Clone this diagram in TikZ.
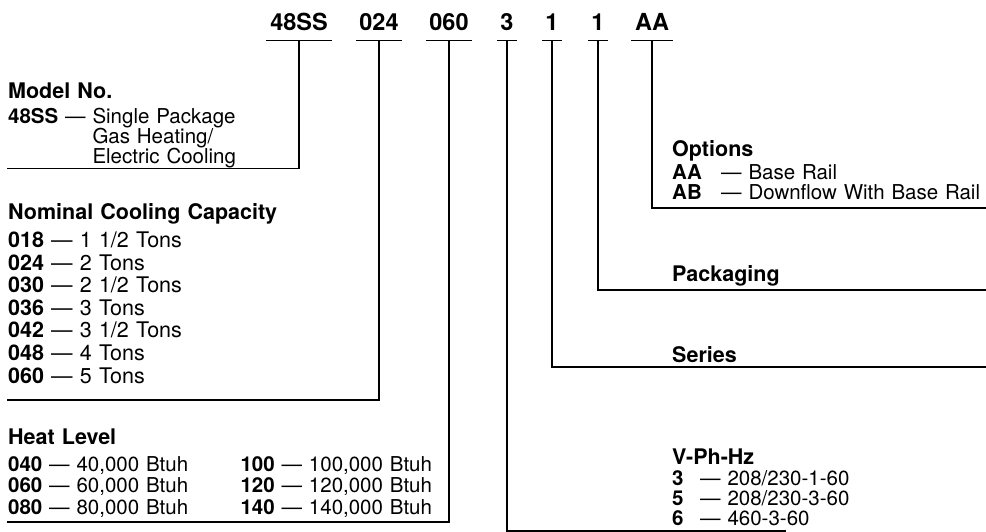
\documentclass[tikz,border=0pt]{standalone}
\usepackage{fontspec}
\setmainfont{TeX Gyre Heros}
\usetikzlibrary{positioning}

\begin{document}
\begin{tikzpicture}[x=1pt,y=-1pt,
code/.style={font=\fontsize{23.5}{24}\selectfont\bfseries, anchor=base, inner xsep=3pt, inner ysep=9pt},
entry/.style={font=\fontsize{21.5}{24}\selectfont, inner sep=0pt, text height=15.5pt, text depth=5pt, text width=300pt, align=left},
heading/.style={entry, font=\fontsize{21.5}{24}\selectfont\bfseries, anchor=base west},
modelrow/.style={entry, font=\fontsize{20.5}{24}\selectfont, text height=15pt, text depth=4.5pt},
heatrow/.style={entry, text width=229pt, font=\fontsize{20.5}{24}\selectfont},
wide/.style={text width=330pt},
rightrow/.style={entry, wide, font=\fontsize{20.5}{24}\selectfont},
rule/.style={line width=1.2pt, line cap=rect}
]
\useasboundingbox (0,0) rectangle (986,532);

% model number codes
\node[code](c48) at (299,31){48SS};
\node[code](c024) at (379,31){024};
\node[code](c060) at (449,31){060};
\node[code](c3) at (507,31){3};
\node[code](c1a) at (552,31){1};
\node[code](c1b) at (598,31){1};
\node[code](cAA) at (652,31){AA};

% left column
\node[heading](modelhd) at (8,99){Model No.};
\node[modelrow](m48)[below=4pt of modelhd]{\textbf{48SS} --- Single Package};
\node[modelrow](mgas)[below=0pt of m48]{\phantom{\textbf{48SS} --- }Gas Heating/};
\node[modelrow](melec)[below=0pt of mgas]{\phantom{\textbf{48SS} --- }Electric Cooling};

\node[heading](caphd) at (8,219){Nominal Cooling Capacity};
\node[entry](cap018)[below=7.5pt of caphd]{\textbf{018} --- 1 1/2 Tons};
\node[entry](cap024)[below=1.7pt of cap018]{\textbf{024} --- 2 Tons};
\node[entry](cap030)[below=1.7pt of cap024]{\textbf{030} --- 2 1/2 Tons};
\node[entry](cap036)[below=1.7pt of cap030]{\textbf{036} --- 3 Tons};
\node[entry](cap042)[below=1.7pt of cap036]{\textbf{042} --- 3 1/2 Tons};
\node[entry](cap048)[below=1.7pt of cap042]{\textbf{048} --- 4 Tons};
\node[entry](cap060)[below=1.7pt of cap048]{\textbf{060} --- 5 Tons};

\node[heading, text width=229pt](heathd) at (8,444){Heat Level};
\node[heatrow](heat040)[below=6.5pt of heathd]{\textbf{040} --- 40,000 Btuh};
\node[heatrow](heat060)[below=0.5pt of heat040]{\textbf{060} --- 60,000 Btuh};
\node[heatrow](heat080)[below=0.5pt of heat060]{\textbf{080} --- 80,000 Btuh};
\node[heatrow](heat100)[right=3pt of heat040]{\textbf{100} --- 100,000 Btuh};
\node[heatrow](heat120)[right=3pt of heat060]{\textbf{120} --- 120,000 Btuh};
\node[heatrow](heat140)[right=3pt of heat080]{\textbf{140} --- 140,000 Btuh};

% right column
\node[heading, wide](opthd) at (672,157){Options};
\node[rightrow](optAA)[below=1.5pt of opthd]{\makebox[49pt][l]{\textbf{AA}}--- Base Rail};
\node[rightrow](optAB)[below=-0.5pt of optAA]{\makebox[49pt][l]{\textbf{AB}}--- Downflow With Base Rail};

\node[heading, wide](packhd) at (672,281){Packaging};
\node[heading, wide](serieshd) at (672,362){Series};

\node[heading, wide](volthd) at (672,464){V-Ph-Hz};
\node[rightrow](volt3)[below=1pt of volthd]{\makebox[28pt][l]{\textbf{3}}--- 208/230-1-60};
\node[rightrow](volt5)[below=-1pt of volt3]{\makebox[28pt][l]{\textbf{5}}--- 208/230-3-60};
\node[rightrow](volt6)[below=-1pt of volt5]{\makebox[28pt][l]{\textbf{6}}--- 460-3-60};

% line ends
\coordinate (modelend) at (8,168.5);
\coordinate (capend) at (8,400);
\coordinate (heatend) at (8,522);
\coordinate (voltend) at (785,531);
\coordinate (seriesend) at (986,367);
\coordinate (packend) at (986,290);
\coordinate (optend) at (986,208);

% underlines and leaders
\foreach \c in {c48,c024,c060,c3,c1a,c1b,cAA}
  \draw[rule] (\c.south west) -- (\c.south east);
\draw[rule] (c48.south) |- (modelend);
\draw[rule] (c024.south) |- (capend);
\draw[rule] (c060.south) |- (heatend);
\draw[rule] (c3.south) |- (voltend);
\draw[rule] (c1a.south) |- (seriesend);
\draw[rule] (c1b.south) |- (packend);
\draw[rule] (cAA.south) |- (optend);
\end{tikzpicture}
\end{document}
